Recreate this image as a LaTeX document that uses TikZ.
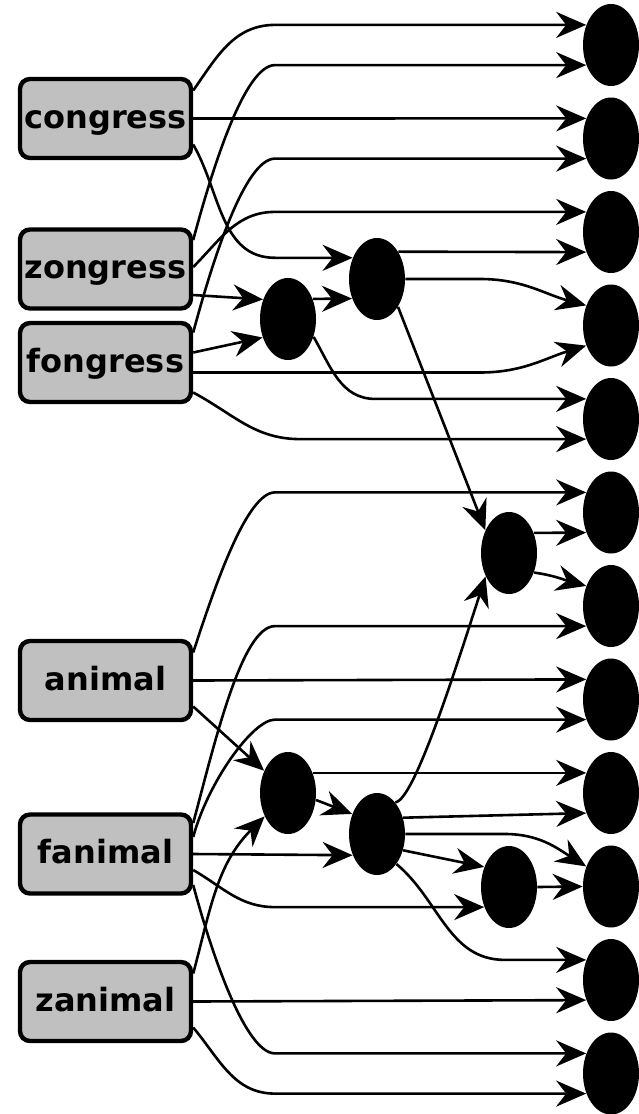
\documentclass[tikz,border=0pt]{standalone}
\usepackage{fontspec}
\setmainfont{DejaVu Sans}
\usetikzlibrary{shapes.geometric,arrows.meta}
\definecolor{boxgray}{RGB}{192,192,192}
\tikzset{
  box/.style={draw,line width=2.2pt,rounded corners=5pt,fill=boxgray,minimum width=85.5pt,minimum height=39.5pt,inner sep=0pt,text height=12pt,text depth=2.5pt,font=\fontsize{16}{19}\selectfont\bfseries},
  dot/.style={ellipse,fill=black,minimum width=28pt,minimum height=41pt,inner sep=0pt},
  edge/.style={line width=1.3pt,-{Stealth[length=15pt,width=13pt,inset=5pt]}},
  rise/.style={out=#1,in=180,in looseness=.4},
}

\begin{document}
\begin{tikzpicture}[x=0.5pt,y=0.5pt]
\useasboundingbox (0,0) rectangle (638,-1114);
\coordinate (colL) at (275,0);
\coordinate (colL2) at (300,0);
\coordinate (colM) at (375,0);
\coordinate (colR) at (480,0);
\coordinate (colS) at (505,0);

\node[box] (congress) at (105.5,-118.5) {congress};
\node[box] (zongress) at (105.5,-269) {zongress};
\node[box] (fongress) at (105.5,-362.5) {fongress};
\node[box] (animal) at (105.5,-680.5) {animal};
\node[box] (fanimal) at (105.5,-854) {fanimal};
\node[box] (zanimal) at (105.5,-1001.5) {zanimal};

\foreach \i in {1,...,12}
  \node[dot] (o\i) at (611,{-45-93.5*(\i-1)}) {};
\node[dot] (h1) at (288,-319) {};
\node[dot] (h2) at (377,-279) {};
\node[dot] (h3) at (509,-553) {};
\node[dot] (h4) at (288,-793) {};
\node[dot] (h5) at (377,-834) {};
\node[dot] (h6) at (509,-887) {};

% upper group
\draw[edge] ([yshift=14pt]congress.east) to[out=55,in=180] (o1.141 -| colL) -- (o1.141);
\draw[edge] (congress.east) -- (o2.141);
\draw[edge] ([yshift=-13pt]congress.east) to[out=-60,in=180] (h2.139 -| colL) -- (h2.139);
\draw[edge] ([yshift=14.5pt]zongress.east) to[rise=75] (o1.219 -| colL) -- (o1.219);
\draw[edge] ([yshift=1pt]zongress.east) to[out=45,in=180] (o3.141 -| colL) -- (o3.141);
\draw[edge] ([yshift=-13pt]zongress.east) -- (h1.142);
\draw[edge] ([yshift=15pt]fongress.east) to[rise=75] (o2.219 -| colL) -- (o2.219);
\draw[edge] ([yshift=5pt]fongress.east) -- (h1.216);
\draw[edge] ([yshift=-5pt]fongress.east) -- ([yshift=-5pt]fongress.east -| colR) to[out=0,in=197] (o4.219);
\draw[edge] ([yshift=-15pt]fongress.east) to[out=-28,in=180] (o5.219 -| colL2) -- (o5.219);
\draw[edge] (h1.39) -- (h2.218);
\draw[edge] (h1.-35) to[out=-60,in=180] (o5.141 -| colM) -- (o5.141);
\draw[edge] (h2.52) -- (o3.219);
\draw[edge] (h2.east) -- (h2.east -| colR) to[out=0,in=165] (o4.141);
\draw[edge] (h2.-53) -- (h3.136);
\draw[edge] (h3.39) -- (o6.219);
\draw[edge] (h3.-38) to[out=-8,in=165] (o7.141);

% lower group
\draw[edge] ([yshift=14pt]animal.east) to[rise=72] (o6.141 -| colL) -- (o6.141);
\draw[edge] (animal.east) -- (o8.141);
\draw[edge] ([yshift=-13pt]animal.east) -- (h4.137);
\draw[edge] ([yshift=15.5pt]fanimal.east) to[rise=75] (o7.219 -| colL) -- (o7.219);
\draw[edge] ([yshift=8.5pt]fanimal.east) to[rise=75] (o8.219 -| colL) -- (o8.219);
\draw[edge] (fanimal.east) -- (h5.221);
\draw[edge] ([yshift=-8pt]fanimal.east) to[out=-30,in=180] (h6.219 -| colL) -- (h6.219);
\draw[edge] ([yshift=-15.5pt]fanimal.east) to[rise=-75] (o12.141 -| colL) -- (o12.141);
\draw[edge] ([yshift=14pt]zanimal.east) to[out=75,in=225] (h4.225);
\draw[edge] (zanimal.east) -- (o11.219);
\draw[edge] ([yshift=-13pt]zanimal.east) to[out=-50,in=180] (o12.219 -| colL) -- (o12.219);
\draw[edge] (h4.39) -- (o9.141);
\draw[edge] (h4.-14) -- (h5.141);
\draw[edge] (h5.60) to[out=5,in=252,out looseness=.2] (h3.225);
\draw[edge] (h5.32) -- (o9.219);
\draw[edge] (h5.east) -- (h5.east -| colS) to[out=0,in=148] (o10.141);
\draw[edge] (h5.-32) -- (h6.141);
\draw[edge] (h5.-57) to[out=-40,in=180] (o11.141 -| colS) -- (o11.141);
\draw[edge] (h6.east) -- (o10.west);
\end{tikzpicture}
\end{document}
